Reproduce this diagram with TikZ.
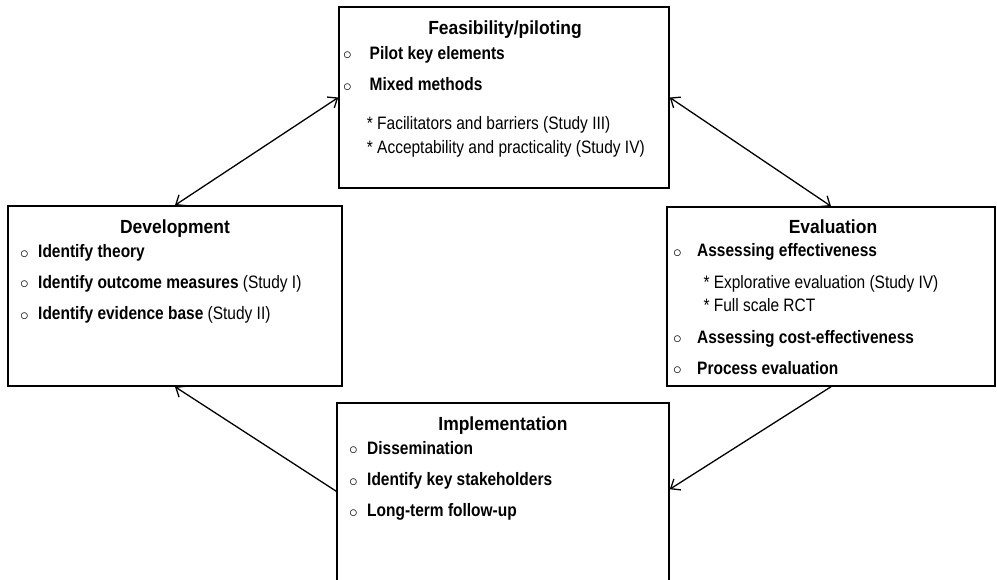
\documentclass[tikz,border=0pt]{standalone}
\usepackage{fontspec}
\setmainfont{Liberation Sans}[FakeStretch=0.86]
\newfontfamily\headfont{Liberation Sans}[FakeStretch=0.92]
\usetikzlibrary{arrows.meta}

\newcommand{\bul}[1][20pt]{\makebox[#1][l]{\raisebox{-0.5pt}{$\circ$}}}

\tikzset{
  box/.style={draw=black,line width=1.5pt,inner sep=0pt},
  head/.style={anchor=base,inner sep=0pt,font=\fontsize{19}{22}\headfont\bfseries},
  txt/.style={anchor=base west,inner sep=0pt,font=\fontsize{18}{21}\selectfont},
  link/.style={draw=black,line width=1.3pt},
  >={Straight Barb[length=8pt,width=13pt,line width=1.3pt]}
}

\begin{document}
\begin{tikzpicture}[x=1pt,y=-1pt]

\useasboundingbox (0,0) rectangle (997,580);
\clip (0,0) rectangle (997,580);

%feasibility
\node[box,minimum width=330pt,minimum height=181pt] (feas) at (504,97.5) {};
\node[head] (feasT) at (505,35) {Feasibility/piloting};
\node[txt] (feas1) at (343,59.3) {\bul[26.5pt]\textbf{Pilot key elements}};
\node[txt] (feas2) at (343,90.7) {\bul[26.5pt]\textbf{Mixed methods}};
\node[txt] (feas3) at (366.7,129.3) {* Facilitators and barriers (Study III)};
\node[txt] (feas4) at (366.7,154) {* Acceptability and practicality (Study IV)};

%development
\node[box,minimum width=334pt,minimum height=180pt] (dev) at (175,296) {};
\node[head] (devT) at (175,233.3) {Development};
\node[txt] (dev1) at (20,257.7) {\bul[18pt]\textbf{Identify theory}};
\node[txt] (dev2) at (20,288.3) {\bul[18pt]\textbf{Identify outcome measures} (Study I)};
\node[txt] (dev3) at (20,320) {\bul[18pt]\textbf{Identify evidence base} (Study II)};

%evaluation
\node[box,minimum width=328pt,minimum height=179pt] (eval) at (831,296.5) {};
\node[head] (evalT) at (833,233.3) {Evaluation};
\node[txt] (eval1) at (673,256.7) {\bul[24pt]\textbf{Assessing effectiveness}};
\node[txt] (eval2) at (703.3,288.3) {* Explorative evaluation (Study IV)};
\node[txt] (eval3) at (703.3,311.7) {* Full scale RCT};
\node[txt] (eval4) at (673,343.3) {\bul[24pt]\textbf{Assessing cost-effectiveness}};
\node[txt] (eval5) at (673,374) {\bul[24pt]\textbf{Process evaluation}};

%implementation
\node[box,minimum width=332pt,minimum height=197pt] (impl) at (503,501.5) {};
\node[head] (implT) at (503,430) {Implementation};
\node[txt] (impl1) at (349,454) {\bul[18pt]\textbf{Dissemination}};
\node[txt] (impl2) at (349,485.7) {\bul[18pt]\textbf{Identify key stakeholders}};
\node[txt] (impl3) at (349,516.7) {\bul[18pt]\textbf{Long-term follow-up}};

%links
\path[link,<->] (dev.north) -- (feas.west);
\path[link,<->] (feas.east) -- (eval.north);
\path[link,->] (eval.south) -- ([yshift=-87pt]impl.north east);
\path[link,->] ([yshift=-89pt]impl.north west) -- (dev.south);

\end{tikzpicture}
\end{document}
